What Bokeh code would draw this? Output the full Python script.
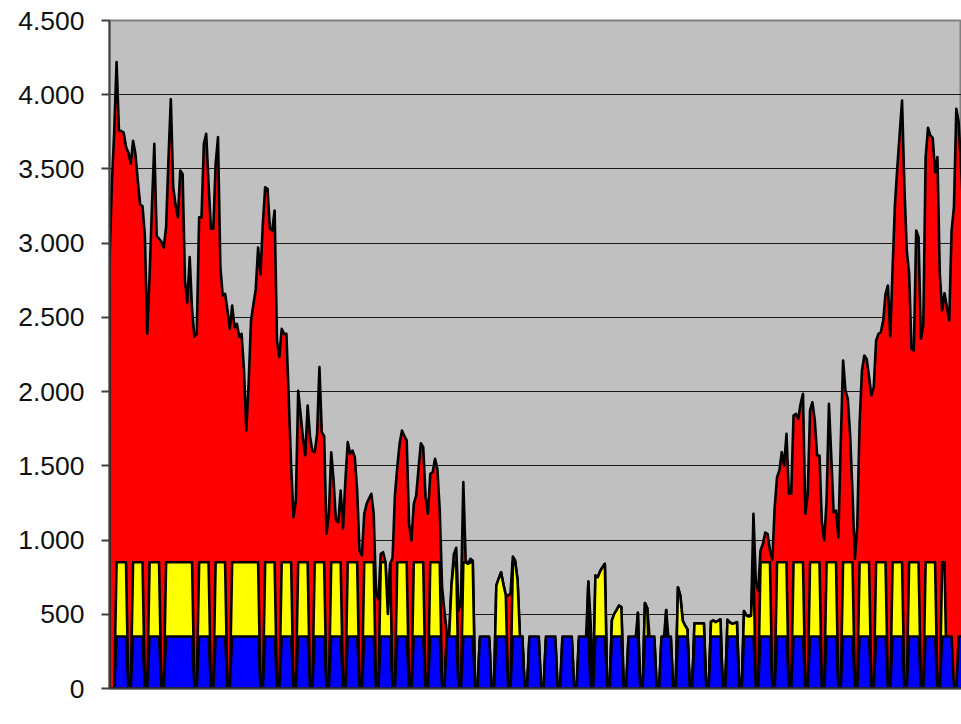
from bokeh.plotting import figure
from bokeh.models import Range1d, FixedTicker
from bokeh.embed import file_html
from bokeh.resources import INLINE

# Daily values (day 0 = first day shown); rows of 7 days: Fri, Sat, Sun, Mon, Tue, Wed, Thu
TOTAL = [
    2880, 3400, 3750, 4220, 3760, 3755, 3745,
    3650, 3610, 3535, 3690, 3600, 3420, 3260,
    3250, 3050, 2390, 2780, 3250, 3670, 3050,
    3030, 3010, 2970, 3110, 3570, 3970, 3380,
    3260, 3175, 3490, 3465, 2750, 2600, 2906,
    2550, 2370, 2389, 3175, 3175, 3669, 3737,
    3400, 3097, 3097, 3535, 3714, 2838, 2648,
    2659, 2550, 2423, 2580, 2434, 2457, 2370,
    2389, 2150, 1738, 2060, 2479, 2587, 2690,
    2970, 2790, 3130, 3377, 3366, 3097, 3085,
    3220, 2344, 2232, 2423, 2389, 2389, 1950,
    1500, 1154, 1266, 2005, 1850, 1690, 1570,
    1906, 1700, 1600, 1592, 1715, 2165, 1727,
    1700, 1042, 1177, 1592, 1401, 1132, 1121,
    1334, 1076, 1401, 1660, 1581, 1603, 1558,
    1334, 925, 896, 1177, 1244, 1280, 1312,
    1177, 650, 600, 907, 918, 850, 503,
    840, 880, 1300, 1491, 1650, 1738, 1700,
    1671, 1110, 997, 1244, 1300, 1480, 1652,
    1626, 1289, 1177, 1446, 1457, 1547, 1480,
    1200, 682, 520, 380, 350, 700, 907,
    948, 525, 600, 1390, 862, 840, 874,
    860, 0, 0, 330, 330, 330, 330,
    330, 0, 0, 694, 740, 783, 700,
    630, 626, 640, 889, 862, 728, 350,
    350, 0, 0, 330, 330, 330, 330,
    330, 0, 0, 330, 330, 330, 330,
    330, 0, 0, 330, 330, 330, 330,
    330, 0, 0, 330, 330, 330, 330,
    720, 436, 0, 761, 750, 790, 817,
    840, 0, 0, 460, 503, 530, 559,
    548, 0, 0, 330, 330, 330, 330,
    510, 0, 0, 575, 540, 330, 330,
    330, 0, 0, 330, 330, 529, 330,
    330, 0, 0, 682, 626, 458, 424,
    400, 0, 0, 440, 438, 440, 438,
    440, 0, 0, 450, 458, 447, 455,
    465, 0, 0, 463, 445, 436, 440,
    447, 0, 0, 521, 492, 485, 490,
    1177, 720, 660, 930, 975, 1050, 1042,
    930, 867, 1221, 1423, 1469, 1592, 1502,
    1716, 1312, 1312, 1839, 1850, 1817, 1918,
    1985, 1177, 1312, 1873, 1929, 1806, 1570,
    1570, 1121, 997, 1266, 1918, 1558, 1188,
    1199, 1019, 1650, 2210, 2007, 1952, 1700,
    1312, 874, 1087, 1783, 2142, 2243, 2220,
    2100, 1974, 2030, 2344, 2389, 2400, 2479,
    2659, 2715, 2371, 2838, 3265, 3512, 3740,
    3961, 3377, 2951, 2794, 2288, 2277, 3085,
    3040, 2356, 2445, 3580, 3777, 3725, 3709,
    3478, 3580, 2794, 2547, 2663, 2569, 2479,
    3085, 3242, 3905, 3815, 3512, 3200,
]

YELLOW = [
    0, 0, 0, 850, 850, 850, 850,
    850, 0, 0, 850, 850, 850, 850,
    850, 0, 0, 850, 850, 850, 850,
    850, 0, 0, 850, 850, 850, 850,
    850, 850, 850, 850, 850, 850, 850,
    850, 0, 0, 850, 850, 850, 850,
    850, 0, 0, 850, 850, 850, 850,
    850, 0, 0, 850, 850, 850, 850,
    850, 850, 850, 850, 850, 850, 850,
    850, 0, 0, 850, 850, 850, 850,
    850, 0, 0, 850, 850, 850, 850,
    850, 0, 0, 850, 850, 850, 850,
    850, 0, 0, 850, 850, 850, 850,
    850, 0, 0, 850, 850, 850, 850,
    850, 0, 0, 850, 850, 850, 850,
    850, 0, 0, 850, 850, 850, 850,
    850, 0, 0, 850, 850, 850, 503,
    840, 0, 0, 850, 850, 850, 850,
    850, 0, 0, 850, 850, 850, 850,
    850, 0, 0, 850, 850, 850, 850,
    850, 0, 0, 380, 350, 700, 850,
    850, 0, 0, 850, 850, 840, 850,
    850, 0, 0, 0, 0, 0, 0,
    0, 0, 0, 694, 740, 783, 700,
    630, 0, 0, 850, 850, 728, 350,
    350, 0, 0, 0, 0, 0, 0,
    0, 0, 0, 0, 0, 0, 0,
    0, 0, 0, 0, 0, 0, 0,
    0, 0, 0, 0, 0, 0, 0,
    720, 0, 0, 761, 750, 790, 817,
    840, 0, 0, 460, 503, 530, 559,
    548, 0, 0, 0, 0, 0, 0,
    510, 0, 0, 575, 540, 0, 0,
    0, 0, 0, 0, 0, 529, 0,
    0, 0, 0, 682, 626, 458, 424,
    400, 0, 0, 440, 438, 440, 438,
    440, 0, 0, 450, 458, 447, 455,
    465, 0, 0, 463, 445, 436, 440,
    447, 0, 0, 521, 492, 485, 490,
    850, 0, 0, 850, 850, 850, 850,
    850, 0, 0, 850, 850, 850, 850,
    850, 0, 0, 850, 850, 850, 850,
    850, 0, 0, 850, 850, 850, 850,
    850, 0, 0, 850, 850, 850, 850,
    850, 0, 0, 850, 850, 850, 850,
    850, 0, 0, 850, 850, 850, 850,
    850, 0, 0, 850, 850, 850, 850,
    850, 0, 0, 850, 850, 850, 850,
    850, 0, 0, 850, 850, 850, 850,
    850, 0, 0, 850, 850, 850, 850,
    850, 0, 0, 850, 850, 0, 0,
    0, 0, 0, 0, 0, 0,
]

BLUE = [
    0, 0, 0, 350, 350, 350, 350,
    350, 0, 0, 350, 350, 350, 350,
    350, 0, 0, 350, 350, 350, 350,
    350, 0, 0, 350, 350, 350, 350,
    350, 350, 350, 350, 350, 350, 350,
    350, 0, 0, 350, 350, 350, 350,
    350, 0, 0, 350, 350, 350, 350,
    350, 0, 0, 350, 350, 350, 350,
    350, 350, 350, 350, 350, 350, 350,
    350, 0, 0, 350, 350, 350, 350,
    350, 0, 0, 350, 350, 350, 350,
    350, 0, 0, 350, 350, 350, 350,
    350, 0, 0, 350, 350, 350, 350,
    350, 0, 0, 350, 350, 350, 350,
    350, 0, 0, 350, 350, 350, 350,
    350, 0, 0, 350, 350, 350, 350,
    350, 0, 0, 350, 350, 350, 350,
    350, 0, 0, 350, 350, 350, 350,
    350, 0, 0, 350, 350, 350, 350,
    350, 0, 0, 350, 350, 350, 350,
    350, 0, 0, 350, 350, 350, 350,
    350, 0, 0, 350, 350, 350, 350,
    350, 0, 0, 350, 350, 350, 350,
    350, 0, 0, 350, 350, 350, 350,
    350, 0, 0, 350, 350, 350, 350,
    350, 0, 0, 350, 350, 350, 350,
    350, 0, 0, 350, 350, 350, 350,
    350, 0, 0, 350, 350, 350, 350,
    350, 0, 0, 350, 350, 350, 350,
    350, 0, 0, 350, 350, 350, 350,
    350, 0, 0, 350, 350, 350, 350,
    350, 0, 0, 350, 350, 350, 350,
    350, 0, 0, 350, 350, 350, 350,
    350, 0, 0, 350, 350, 350, 350,
    350, 0, 0, 350, 350, 350, 350,
    350, 0, 0, 350, 350, 350, 350,
    350, 0, 0, 350, 350, 350, 350,
    350, 0, 0, 350, 350, 350, 350,
    350, 0, 0, 350, 350, 350, 350,
    350, 0, 0, 350, 350, 350, 350,
    350, 0, 0, 350, 350, 350, 350,
    350, 0, 0, 350, 350, 350, 350,
    350, 0, 0, 350, 350, 350, 350,
    350, 0, 0, 350, 350, 350, 350,
    350, 0, 0, 350, 350, 350, 350,
    350, 0, 0, 350, 350, 350, 350,
    350, 0, 0, 350, 350, 350, 350,
    350, 0, 0, 350, 350, 350, 350,
    350, 0, 0, 350, 350, 350, 350,
    350, 0, 0, 350, 350, 350, 350,
    350, 0, 0, 350, 350, 350, 350,
    350, 0, 0, 350, 350, 350,
]

Y_TICKS = [0, 500, 1000, 1500, 2000, 2500, 3000, 3500, 4000, 4500]
Y_TICK_LABELS = ["0", "500", "1.000", "1.500", "2.000", "2.500", "3.000", "3.500", "4.000", "4.500"]
GRID_TICKS = [500, 1000, 1500, 2000, 2500, 3000, 3500, 4000]

DAYS = list(range(len(TOTAL)))

p = figure(frame_width=852, frame_height=668,
           output_backend="svg", toolbar_location=None,
           x_range=Range1d(0, 361.2), y_range=Range1d(0, 4500),
           min_border_left=109, min_border_right=0,
           min_border_top=20, min_border_bottom=20)
p.background_fill_color = "#C0C0C0"
p.border_fill_color = "white"
p.outline_line_color = "#808080"
p.outline_line_width = 2

p.xgrid.visible = False
p.ygrid.ticker = FixedTicker(ticks=GRID_TICKS)
p.ygrid.grid_line_color = "#1a1a1a"
p.ygrid.grid_line_width = 1.2


def closed(xs, ys):
    return [xs[0]] + list(xs) + [xs[-1]], [0] + list(ys) + [0]


for vals, color in [(TOTAL, "#FF0000"), (YELLOW, "#FFFF00"), (BLUE, "#0000FF")]:
    xs, ys = closed(DAYS, vals)
    p.patch(xs, ys, fill_color=color, line_color="black", line_width=2.6,
            line_join="round")

# y axis
p.yaxis.ticker = FixedTicker(ticks=Y_TICKS)
p.yaxis.major_label_overrides = {t: l for t, l in zip(Y_TICKS, Y_TICK_LABELS)}
p.yaxis.major_tick_out = 8
p.yaxis.major_tick_in = 0
p.yaxis.minor_tick_out = 0
p.yaxis.minor_tick_in = 0
p.yaxis.axis_line_color = "#404040"
p.yaxis.axis_line_width = 2
p.yaxis.major_tick_line_color = "#404040"
p.yaxis.major_tick_line_width = 2
p.yaxis.major_label_text_font = "Liberation Sans"
p.yaxis.major_label_text_font_size = "26.5px"
p.yaxis.major_label_text_color = "#111111"
p.yaxis.major_label_standoff = 17

# x axis: line only
p.xaxis.ticker = FixedTicker(ticks=[])
p.xaxis.axis_line_color = "#404040"
p.xaxis.axis_line_width = 2
p.xaxis.major_tick_line_color = None
p.xaxis.minor_tick_line_color = None

open("out.html", "w").write(file_html(p, INLINE))
